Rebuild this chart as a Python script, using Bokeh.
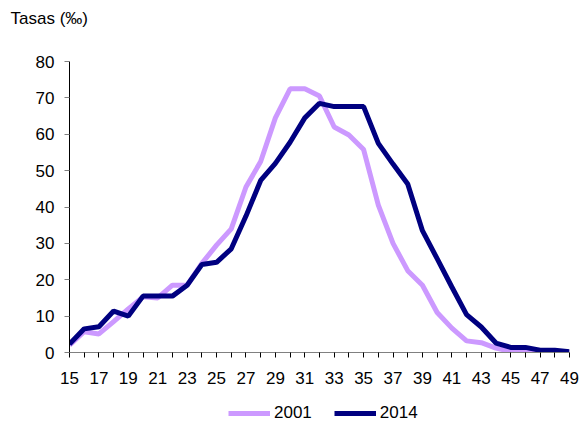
from bokeh.plotting import figure
from bokeh.models import Legend, LegendItem, FixedTicker, Range1d, Title
from bokeh.layouts import column
from bokeh.embed import file_html
from bokeh.resources import INLINE

ages = list(range(15, 50))
rates_2001 = [2, 5.7, 5.1, 8.5, 12, 15.3, 15, 18.5, 18.5, 24.5, 29.5, 34, 45.5, 52.5,
              64.5, 72.5, 72.5, 70.5, 62, 59.8, 55.8, 40.5, 30, 22.5, 18.5, 11, 6.7,
              3.2, 2.7, 1.2, 0.3, 0.2, 0.1, 0.1, 0]
rates_2014 = [2.3, 6.5, 7.1, 11.4, 10, 15.5, 15.5, 15.5, 18.5, 24.2, 24.8, 28.5, 37.5,
              47.3, 52, 57.8, 64.5, 68.5, 67.6, 67.6, 67.6, 57.5, 51.8, 46.3, 33.5,
              25.8, 18, 10.4, 7, 2.6, 1.4, 1.4, 0.6, 0.6, 0.2]
y_ticks = [0, 10, 20, 30, 40, 50, 60, 70, 80]
series_names = ["2001", "2014"]
series_colors = ["#CC99FF", "#000080"]
title_text = "Tasas (‰)"

FONT = "Liberation Sans"

p = figure(width=582, height=393, output_backend="svg", toolbar_location=None,
           x_range=Range1d(15, 49), y_range=Range1d(0, 80),
           min_border_left=69, min_border_right=13, min_border_top=61,
           min_border_bottom=41)
p.outline_line_color = None
p.grid.visible = False

p.line(ages, rates_2001, line_color=series_colors[0], line_width=5)
p.line(ages, rates_2014, line_color=series_colors[1], line_width=5)

# spacer between frame and title, then the title itself (outermost)
p.add_layout(Title(text=" ", text_font_size="1px", standoff=31), "above")
p.title.text = title_text
p.title.align = "left"
p.title.offset = -59
p.title.standoff = 0
p.title.text_font = FONT
p.title.text_font_size = "17px"
p.title.text_font_style = "normal"
p.title.text_color = "black"

# axes
p.xaxis.ticker = FixedTicker(ticks=ages)
p.xaxis.major_label_overrides = {a: (str(a) if a % 2 == 1 else "") for a in ages}
p.xaxis.axis_line_color = "#808080"
p.xaxis.major_tick_line_color = "black"
p.xaxis.major_tick_out = 5
p.xaxis.major_tick_in = 0
p.xaxis.minor_tick_line_color = None
p.xaxis.major_label_standoff = 14
p.xaxis.major_label_text_font = FONT
p.xaxis.major_label_text_font_size = "17px"
p.xaxis.major_label_text_color = "black"

p.yaxis.ticker = FixedTicker(ticks=y_ticks)
p.yaxis.axis_line_color = "black"
p.yaxis.major_tick_line_color = "#808080"
p.yaxis.major_tick_out = 5
p.yaxis.major_tick_in = 0
p.yaxis.minor_tick_line_color = None
p.yaxis.major_label_standoff = 10
p.yaxis.major_label_text_font = FONT
p.yaxis.major_label_text_font_size = "17px"
p.yaxis.major_label_text_color = "black"

# legend strip (same series, drawn outside its visible range; only the legend shows)
leg = figure(width=582, height=30, output_backend="svg", toolbar_location=None,
             x_range=Range1d(15, 49), y_range=Range1d(-20, -10),
             x_axis_location=None, y_axis_location=None,
             min_border_left=0, min_border_right=0, min_border_top=0,
             min_border_bottom=0)
leg.outline_line_color = None
leg.grid.visible = False
r1 = leg.line(ages, rates_2001, line_color=series_colors[0], line_width=5)
r2 = leg.line(ages, rates_2014, line_color=series_colors[1], line_width=5)
legend = Legend(items=[LegendItem(label=series_names[0], renderers=[r1]),
                       LegendItem(label=series_names[1], renderers=[r2])],
                orientation="horizontal", location=(159, 0),
                glyph_width=42, glyph_height=16, label_standoff=4, spacing=22,
                padding=0, margin=0, border_line_alpha=0, background_fill_alpha=0,
                label_text_font=FONT, label_text_font_size="17px",
                label_text_color="black")
leg.add_layout(legend)

open("out.html", "w").write(file_html(column(p, leg, spacing=0), INLINE))
